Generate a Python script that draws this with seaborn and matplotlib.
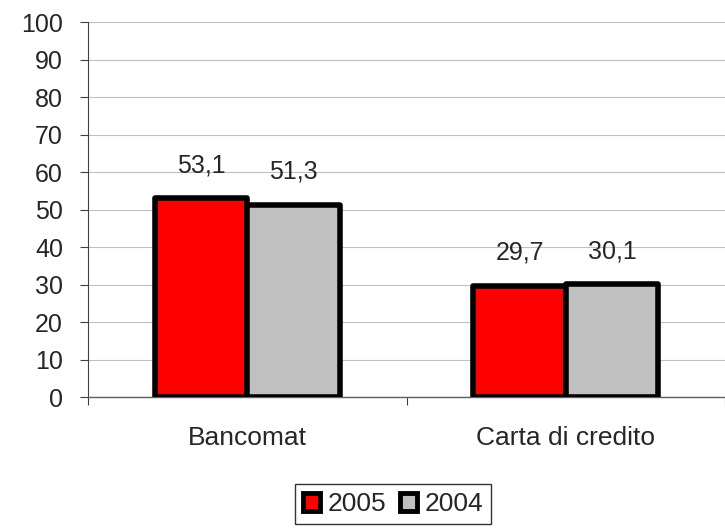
import matplotlib
matplotlib.use("Agg")
import matplotlib.pyplot as plt
import seaborn as sns
import pandas as pd
from matplotlib.patches import Patch

categories = ["Bancomat", "Carta di credito"]
years = ["2005", "2004"]
values_2005 = [53.1, 29.7]
values_2004 = [51.3, 30.1]
colors = {"2005": "#FF0000", "2004": "#C0C0C0"}

df = pd.DataFrame({
    "cat": categories * 2,
    "year": ["2005"] * 2 + ["2004"] * 2,
    "val": values_2005 + values_2004,
})

sns.set_style("white")
plt.rcParams["font.family"] = ["Liberation Sans", "DejaVu Sans"]

fig = plt.figure(figsize=(7.25, 5.29), dpi=100)
ax = fig.add_axes([0.1214, 0.2495, 0.8786, 0.7089])

sns.barplot(data=df, x="cat", y="val", hue="year", hue_order=years, order=categories,
            palette=colors, saturation=1, width=0.58, edgecolor="black", linewidth=4,
            legend=False, ax=ax, zorder=3)

for cont in ax.containers:
    labels = [f"{b.get_height():.1f}".replace(".", ",") for b in cont]
    ax.bar_label(cont, labels=labels, padding=15, fontsize=18)
for p in ax.patches:
    p.set_joinstyle("round")

ax.set_ylim(0, 100)
ax.set_xlim(-0.5, 1.5)
ax.set_yticks(range(0, 101, 10))
ax.yaxis.grid(True, color="#C0C0C0", linewidth=0.8, zorder=0)
ax.set_axisbelow(True)
ax.set_xlabel("")
ax.set_ylabel("")
ax.tick_params(axis="y", which="major", length=6, width=0.8, color="#404040",
               direction="out", pad=12, labelsize=18, left=True)
ax.tick_params(axis="x", which="major", length=0, pad=21, labelsize=19)
ax.set_xticks([-0.5, 0.5, 1.5], minor=True)
ax.tick_params(axis="x", which="minor", length=6, width=0.8, color="#404040",
               direction="out", bottom=True)
sns.despine(ax=ax, top=True, right=True)
ax.spines["left"].set_color("#404040")
ax.spines["bottom"].set_color("#606060")
ax.spines["left"].set_linewidth(0.8)
ax.spines["bottom"].set_linewidth(1.0)

handles = [Patch(facecolor=colors[y], edgecolor="black", linewidth=3.5, label=y) for y in years]
leg = fig.legend(handles=handles, loc="center", bbox_to_anchor=(0.542, 0.047), ncol=2,
                 fontsize=19, frameon=True, fancybox=False, edgecolor="black",
                 handlelength=0.65, handleheight=0.65, handletextpad=0.3,
                 columnspacing=0.5, borderpad=0.3)
leg.get_frame().set_linewidth(1.0)

fig.savefig("out.png", dpi=100)
